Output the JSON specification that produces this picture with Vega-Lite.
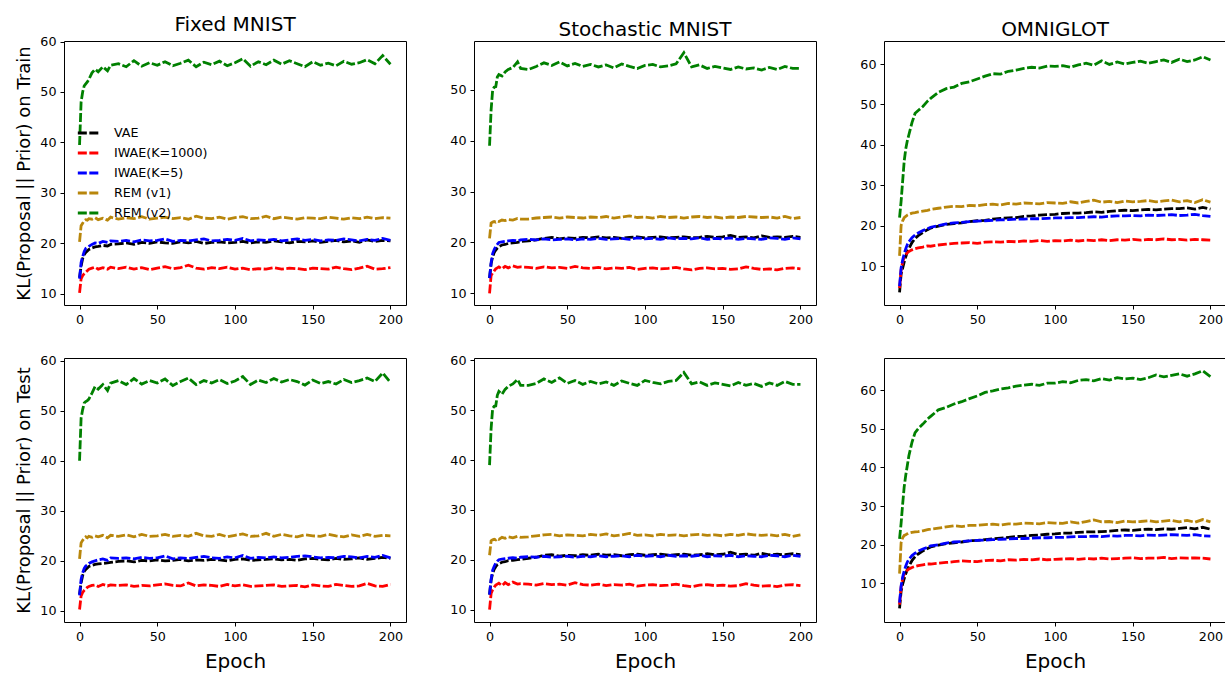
{
"$schema":"https://vega.github.io/schema/vega-lite/v6.json",
"padding":{"left":15,"top":14,"right":0,"bottom":0},
"config":{
 "font":"DejaVu Sans",
 "view":{"stroke":"black","strokeWidth":1},
 "axis":{"domain":false,"grid":false,"tickColor":"black","tickSize":4,"tickWidth":1,"labelFontSize":12.7,"labelColor":"black","labelPadding":4,"titleFontWeight":"normal","titleColor":"black","labelFont":"DejaVu Sans","titleFont":"DejaVu Sans"},
 "title":{"fontSize":20,"fontWeight":"normal","font":"DejaVu Sans","offset":1,"baseline":"alphabetic","color":"black"},
 "line":{"strokeWidth":2.8,"strokeDash":[9,2.5]}
},
"data":{"values":[
{"p":"FT","e":0,"a":13.2,"b":10.2,"c":13.0,"d":20.3,"g":39.5},
{"p":"FT","e":1,"a":15.5,"b":13.0,"c":16.2,"d":23.5,"g":48.0},
{"p":"FT","e":2,"a":17.0,"b":13.6,"c":17.4,"d":24.0,"g":50.0},
{"p":"FT","e":3,"a":17.8,"b":14.0,"c":18.4,"d":24.5,"g":51.2},
{"p":"FT","e":4,"a":18.2,"b":14.3,"c":19.0,"d":24.7,"g":51.6},
{"p":"FT","e":5,"a":18.5,"b":14.6,"c":19.2,"d":24.6,"g":52.0},
{"p":"FT","e":6,"a":18.8,"b":14.9,"c":19.4,"d":24.9,"g":52.5},
{"p":"FT","e":8,"a":19.1,"b":15.1,"c":19.8,"d":24.8,"g":53.8},
{"p":"FT","e":10,"a":19.3,"b":15.3,"c":20.1,"d":25.1,"g":54.5},
{"p":"FT","e":12,"a":19.4,"b":14.9,"c":20.0,"d":24.7,"g":54.0},
{"p":"FT","e":15,"a":19.6,"b":15.2,"c":20.4,"d":25.0,"g":55.0},
{"p":"FT","e":18,"a":19.5,"b":14.9,"c":20.2,"d":24.6,"g":54.2},
{"p":"FT","e":20,"a":19.8,"b":15.3,"c":20.5,"d":25.2,"g":55.3},
{"p":"FT","e":25,"a":19.9,"b":15.0,"c":20.4,"d":24.8,"g":55.6},
{"p":"FT","e":30,"a":20.1,"b":15.3,"c":20.6,"d":25.1,"g":55.0},
{"p":"FT","e":35,"a":19.8,"b":14.9,"c":20.3,"d":24.9,"g":56.2},
{"p":"FT","e":40,"a":20.2,"b":15.2,"c":20.7,"d":25.3,"g":55.1},
{"p":"FT","e":45,"a":20.0,"b":14.8,"c":20.5,"d":24.8,"g":55.8},
{"p":"FT","e":50,"a":20.3,"b":15.1,"c":20.6,"d":25.0,"g":55.3},
{"p":"FT","e":55,"a":20.1,"b":15.4,"c":20.9,"d":25.2,"g":56.0},
{"p":"FT","e":60,"a":20.0,"b":15.0,"c":20.4,"d":24.9,"g":55.2},
{"p":"FT","e":65,"a":20.3,"b":15.2,"c":20.6,"d":25.1,"g":55.7},
{"p":"FT","e":70,"a":20.1,"b":15.7,"c":20.5,"d":24.8,"g":56.3},
{"p":"FT","e":75,"a":20.4,"b":15.1,"c":20.7,"d":25.4,"g":55.0},
{"p":"FT","e":80,"a":20.0,"b":14.9,"c":20.9,"d":25.0,"g":55.9},
{"p":"FT","e":85,"a":20.2,"b":15.2,"c":20.5,"d":24.9,"g":55.4},
{"p":"FT","e":90,"a":20.3,"b":15.0,"c":20.6,"d":25.2,"g":56.1},
{"p":"FT","e":95,"a":20.1,"b":15.3,"c":20.8,"d":24.8,"g":55.2},
{"p":"FT","e":100,"a":20.2,"b":14.9,"c":20.6,"d":25.1,"g":55.8},
{"p":"FT","e":105,"a":20.4,"b":15.1,"c":21.0,"d":25.3,"g":56.6},
{"p":"FT","e":110,"a":20.1,"b":14.8,"c":20.5,"d":24.9,"g":55.1},
{"p":"FT","e":115,"a":20.3,"b":15.0,"c":20.7,"d":25.0,"g":56.0},
{"p":"FT","e":120,"a":20.2,"b":14.9,"c":20.6,"d":25.4,"g":55.4},
{"p":"FT","e":125,"a":20.5,"b":15.2,"c":20.8,"d":24.9,"g":56.3},
{"p":"FT","e":130,"a":20.3,"b":14.9,"c":20.5,"d":25.2,"g":55.5},
{"p":"FT","e":135,"a":20.1,"b":15.1,"c":20.7,"d":25.0,"g":56.2},
{"p":"FT","e":140,"a":20.4,"b":15.0,"c":20.9,"d":24.8,"g":55.6},
{"p":"FT","e":145,"a":20.3,"b":14.8,"c":20.6,"d":25.1,"g":55.0},
{"p":"FT","e":150,"a":20.5,"b":15.1,"c":20.8,"d":25.0,"g":56.0},
{"p":"FT","e":155,"a":20.2,"b":15.0,"c":20.5,"d":24.9,"g":55.3},
{"p":"FT","e":160,"a":20.4,"b":14.9,"c":20.7,"d":25.2,"g":55.7},
{"p":"FT","e":165,"a":20.6,"b":15.3,"c":20.6,"d":25.0,"g":55.2},
{"p":"FT","e":170,"a":20.3,"b":15.0,"c":20.9,"d":24.8,"g":56.1},
{"p":"FT","e":175,"a":20.5,"b":14.8,"c":20.7,"d":25.1,"g":55.5},
{"p":"FT","e":180,"a":20.2,"b":15.1,"c":20.5,"d":24.9,"g":55.8},
{"p":"FT","e":185,"a":20.7,"b":15.5,"c":20.8,"d":25.2,"g":56.4},
{"p":"FT","e":190,"a":20.4,"b":14.9,"c":20.6,"d":24.9,"g":55.6},
{"p":"FT","e":195,"a":20.6,"b":15.0,"c":21.0,"d":25.1,"g":57.2},
{"p":"FT","e":200,"a":20.5,"b":15.2,"c":20.6,"d":25.0,"g":55.5},
{"p":"ST","e":0,"a":13.0,"b":10.0,"c":13.0,"d":20.8,"g":39.0},
{"p":"ST","e":1,"a":15.8,"b":13.5,"c":16.0,"d":23.8,"g":46.0},
{"p":"ST","e":2,"a":17.2,"b":14.0,"c":17.8,"d":24.0,"g":50.0},
{"p":"ST","e":3,"a":18.0,"b":14.4,"c":18.6,"d":24.1,"g":50.5},
{"p":"ST","e":4,"a":18.5,"b":14.8,"c":19.2,"d":24.0,"g":50.6},
{"p":"ST","e":5,"a":18.9,"b":15.0,"c":19.6,"d":24.2,"g":52.5},
{"p":"ST","e":6,"a":19.2,"b":15.2,"c":20.0,"d":24.1,"g":53.0},
{"p":"ST","e":8,"a":19.5,"b":14.8,"c":20.1,"d":24.4,"g":52.7},
{"p":"ST","e":10,"a":19.6,"b":15.3,"c":20.2,"d":24.3,"g":53.5},
{"p":"ST","e":12,"a":19.8,"b":15.0,"c":20.3,"d":24.5,"g":54.0},
{"p":"ST","e":15,"a":19.9,"b":15.4,"c":20.4,"d":24.4,"g":54.4},
{"p":"ST","e":18,"a":20.0,"b":15.1,"c":20.3,"d":24.7,"g":55.5},
{"p":"ST","e":20,"a":20.2,"b":15.2,"c":20.5,"d":24.6,"g":54.2},
{"p":"ST","e":25,"a":20.3,"b":15.1,"c":20.6,"d":24.6,"g":54.0},
{"p":"ST","e":30,"a":20.5,"b":14.9,"c":20.5,"d":24.8,"g":54.6},
{"p":"ST","e":35,"a":20.8,"b":15.2,"c":20.7,"d":24.9,"g":55.3},
{"p":"ST","e":40,"a":21.0,"b":15.0,"c":20.5,"d":25.0,"g":54.8},
{"p":"ST","e":45,"a":20.7,"b":15.1,"c":20.6,"d":24.8,"g":55.5},
{"p":"ST","e":50,"a":20.9,"b":14.9,"c":20.7,"d":25.0,"g":54.7},
{"p":"ST","e":55,"a":20.8,"b":15.3,"c":20.5,"d":24.9,"g":55.2},
{"p":"ST","e":60,"a":21.0,"b":15.0,"c":20.7,"d":24.8,"g":54.6},
{"p":"ST","e":65,"a":20.9,"b":14.9,"c":20.6,"d":25.0,"g":55.0},
{"p":"ST","e":70,"a":21.1,"b":15.1,"c":20.8,"d":24.9,"g":54.5},
{"p":"ST","e":75,"a":20.9,"b":14.8,"c":20.6,"d":25.1,"g":54.9},
{"p":"ST","e":80,"a":21.0,"b":15.0,"c":20.7,"d":24.8,"g":54.3},
{"p":"ST","e":85,"a":20.8,"b":14.9,"c":20.8,"d":25.0,"g":55.1},
{"p":"ST","e":90,"a":21.0,"b":15.1,"c":20.6,"d":25.2,"g":54.6},
{"p":"ST","e":95,"a":21.1,"b":14.7,"c":20.9,"d":24.9,"g":54.2},
{"p":"ST","e":100,"a":20.9,"b":14.9,"c":20.7,"d":25.0,"g":54.8},
{"p":"ST","e":105,"a":21.0,"b":15.0,"c":20.8,"d":24.8,"g":55.0},
{"p":"ST","e":110,"a":21.1,"b":14.8,"c":20.6,"d":25.1,"g":54.5},
{"p":"ST","e":115,"a":20.9,"b":14.9,"c":20.9,"d":24.9,"g":54.7},
{"p":"ST","e":120,"a":21.0,"b":15.1,"c":20.7,"d":25.0,"g":55.1},
{"p":"ST","e":125,"a":21.1,"b":14.8,"c":20.8,"d":24.8,"g":57.3},
{"p":"ST","e":130,"a":20.9,"b":14.6,"c":20.7,"d":25.0,"g":54.5},
{"p":"ST","e":135,"a":21.0,"b":14.9,"c":20.9,"d":25.1,"g":54.9},
{"p":"ST","e":140,"a":21.2,"b":15.0,"c":20.6,"d":24.9,"g":54.2},
{"p":"ST","e":145,"a":21.0,"b":14.8,"c":20.8,"d":25.0,"g":54.6},
{"p":"ST","e":150,"a":21.1,"b":14.9,"c":20.7,"d":24.8,"g":54.3},
{"p":"ST","e":155,"a":21.4,"b":14.7,"c":20.9,"d":25.0,"g":54.0},
{"p":"ST","e":160,"a":21.0,"b":14.8,"c":20.6,"d":24.9,"g":54.5},
{"p":"ST","e":165,"a":21.1,"b":15.2,"c":20.8,"d":25.1,"g":54.1},
{"p":"ST","e":170,"a":20.9,"b":14.9,"c":20.7,"d":25.0,"g":54.3},
{"p":"ST","e":175,"a":21.3,"b":14.7,"c":20.6,"d":24.9,"g":53.9},
{"p":"ST","e":180,"a":21.0,"b":14.8,"c":20.9,"d":25.0,"g":54.4},
{"p":"ST","e":185,"a":21.1,"b":14.6,"c":20.8,"d":24.8,"g":54.0},
{"p":"ST","e":190,"a":21.0,"b":14.9,"c":20.6,"d":25.1,"g":54.6},
{"p":"ST","e":195,"a":21.2,"b":15.0,"c":20.9,"d":24.7,"g":54.2},
{"p":"ST","e":200,"a":21.0,"b":14.8,"c":20.7,"d":24.9,"g":54.2},
{"p":"OT","e":0,"a":3.5,"b":4.5,"c":5.0,"d":12.5,"g":22.0},
{"p":"OT","e":1,"a":8.0,"b":9.0,"c":9.5,"d":20.0,"g":26.0},
{"p":"OT","e":2,"a":9.5,"b":11.0,"c":11.5,"d":21.2,"g":31.0},
{"p":"OT","e":3,"a":11.0,"b":12.2,"c":13.0,"d":22.0,"g":36.0},
{"p":"OT","e":4,"a":12.3,"b":12.8,"c":14.3,"d":22.3,"g":39.0},
{"p":"OT","e":5,"a":13.5,"b":13.3,"c":15.3,"d":22.6,"g":41.0},
{"p":"OT","e":6,"a":14.3,"b":13.6,"c":16.0,"d":22.8,"g":42.5},
{"p":"OT","e":8,"a":15.8,"b":14.0,"c":17.0,"d":23.1,"g":45.5},
{"p":"OT","e":10,"a":16.8,"b":14.3,"c":17.7,"d":23.2,"g":47.8},
{"p":"OT","e":12,"a":17.5,"b":14.5,"c":18.2,"d":23.4,"g":48.5},
{"p":"OT","e":15,"a":18.3,"b":14.7,"c":18.8,"d":23.6,"g":49.5},
{"p":"OT","e":18,"a":19.0,"b":15.0,"c":19.2,"d":23.8,"g":50.8},
{"p":"OT","e":20,"a":19.4,"b":14.9,"c":19.6,"d":24.0,"g":51.5},
{"p":"OT","e":25,"a":19.9,"b":15.2,"c":20.0,"d":24.3,"g":53.0},
{"p":"OT","e":30,"a":20.3,"b":15.4,"c":20.4,"d":24.6,"g":53.9},
{"p":"OT","e":35,"a":20.5,"b":15.6,"c":20.7,"d":24.8,"g":54.3},
{"p":"OT","e":40,"a":20.7,"b":15.7,"c":20.8,"d":24.7,"g":55.2},
{"p":"OT","e":45,"a":21.0,"b":15.8,"c":21.0,"d":25.0,"g":55.6},
{"p":"OT","e":50,"a":21.2,"b":15.6,"c":21.1,"d":24.9,"g":56.3},
{"p":"OT","e":55,"a":21.3,"b":15.9,"c":21.2,"d":25.2,"g":57.0},
{"p":"OT","e":60,"a":21.6,"b":16.0,"c":21.3,"d":25.3,"g":57.6},
{"p":"OT","e":65,"a":21.8,"b":15.9,"c":21.4,"d":25.1,"g":57.5},
{"p":"OT","e":70,"a":21.9,"b":16.1,"c":21.5,"d":25.5,"g":58.2},
{"p":"OT","e":75,"a":22.0,"b":16.0,"c":21.6,"d":25.3,"g":58.5},
{"p":"OT","e":80,"a":22.3,"b":16.2,"c":21.6,"d":25.6,"g":58.9},
{"p":"OT","e":85,"a":22.4,"b":16.1,"c":21.7,"d":25.5,"g":59.2},
{"p":"OT","e":90,"a":22.6,"b":16.3,"c":21.7,"d":25.4,"g":59.0},
{"p":"OT","e":95,"a":22.7,"b":16.1,"c":21.8,"d":25.7,"g":59.5},
{"p":"OT","e":100,"a":22.8,"b":16.3,"c":21.9,"d":25.6,"g":59.4},
{"p":"OT","e":105,"a":23.0,"b":16.2,"c":21.9,"d":25.5,"g":59.6},
{"p":"OT","e":110,"a":23.1,"b":16.4,"c":22.0,"d":25.9,"g":59.2},
{"p":"OT","e":115,"a":23.1,"b":16.2,"c":22.0,"d":25.6,"g":59.8},
{"p":"OT","e":120,"a":23.2,"b":16.4,"c":22.1,"d":26.0,"g":60.2},
{"p":"OT","e":125,"a":23.4,"b":16.3,"c":22.2,"d":26.3,"g":59.7},
{"p":"OT","e":130,"a":23.3,"b":16.5,"c":22.1,"d":25.8,"g":60.8},
{"p":"OT","e":135,"a":23.5,"b":16.3,"c":22.3,"d":26.0,"g":59.9},
{"p":"OT","e":140,"a":23.7,"b":16.5,"c":22.4,"d":25.7,"g":60.5},
{"p":"OT","e":145,"a":23.8,"b":16.4,"c":22.4,"d":26.1,"g":60.0},
{"p":"OT","e":150,"a":23.7,"b":16.6,"c":22.5,"d":25.9,"g":60.4},
{"p":"OT","e":155,"a":23.9,"b":16.4,"c":22.4,"d":26.0,"g":60.7},
{"p":"OT","e":160,"a":24.0,"b":16.6,"c":22.6,"d":26.2,"g":60.2},
{"p":"OT","e":165,"a":23.9,"b":16.5,"c":22.5,"d":25.9,"g":60.6},
{"p":"OT","e":170,"a":24.1,"b":16.7,"c":22.6,"d":26.1,"g":61.0},
{"p":"OT","e":175,"a":24.2,"b":16.5,"c":22.7,"d":26.3,"g":60.4},
{"p":"OT","e":180,"a":24.2,"b":16.6,"c":22.5,"d":25.9,"g":61.2},
{"p":"OT","e":185,"a":24.4,"b":16.4,"c":22.6,"d":26.2,"g":60.6},
{"p":"OT","e":190,"a":24.1,"b":16.6,"c":22.8,"d":25.7,"g":61.0},
{"p":"OT","e":195,"a":24.5,"b":16.5,"c":22.5,"d":26.4,"g":61.8},
{"p":"OT","e":200,"a":24.1,"b":16.4,"c":22.3,"d":25.8,"g":61.0},
{"p":"FE","e":0,"a":13.3,"b":10.3,"c":13.1,"d":20.4,"g":40.0},
{"p":"FE","e":1,"a":15.6,"b":13.0,"c":16.3,"d":23.6,"g":48.5},
{"p":"FE","e":2,"a":17.1,"b":13.7,"c":17.6,"d":24.1,"g":50.2},
{"p":"FE","e":3,"a":17.9,"b":14.1,"c":18.5,"d":24.5,"g":51.5},
{"p":"FE","e":4,"a":18.3,"b":14.4,"c":19.0,"d":24.8,"g":51.8},
{"p":"FE","e":5,"a":18.6,"b":14.7,"c":19.2,"d":24.6,"g":52.0},
{"p":"FE","e":6,"a":18.9,"b":14.9,"c":19.5,"d":24.9,"g":52.3},
{"p":"FE","e":8,"a":19.1,"b":15.1,"c":19.8,"d":24.7,"g":53.5},
{"p":"FE","e":10,"a":19.3,"b":15.2,"c":20.0,"d":25.0,"g":54.8},
{"p":"FE","e":12,"a":19.4,"b":14.9,"c":20.2,"d":24.8,"g":54.3},
{"p":"FE","e":15,"a":19.5,"b":15.3,"c":20.4,"d":25.1,"g":55.2},
{"p":"FE","e":18,"a":19.6,"b":15.0,"c":20.1,"d":24.6,"g":54.0},
{"p":"FE","e":20,"a":19.7,"b":15.2,"c":20.6,"d":25.1,"g":55.5},
{"p":"FE","e":25,"a":19.9,"b":15.1,"c":20.5,"d":24.9,"g":56.0},
{"p":"FE","e":30,"a":20.0,"b":15.2,"c":20.6,"d":25.2,"g":55.2},
{"p":"FE","e":35,"a":19.8,"b":14.9,"c":20.4,"d":24.8,"g":56.4},
{"p":"FE","e":40,"a":20.1,"b":15.1,"c":20.7,"d":25.3,"g":55.3},
{"p":"FE","e":45,"a":20.0,"b":15.0,"c":20.5,"d":24.9,"g":56.0},
{"p":"FE","e":50,"a":20.2,"b":15.2,"c":20.6,"d":25.0,"g":55.5},
{"p":"FE","e":55,"a":20.0,"b":15.4,"c":21.0,"d":25.3,"g":56.3},
{"p":"FE","e":60,"a":20.1,"b":15.1,"c":20.4,"d":24.9,"g":55.0},
{"p":"FE","e":65,"a":20.3,"b":15.0,"c":20.6,"d":25.1,"g":55.8},
{"p":"FE","e":70,"a":20.0,"b":15.6,"c":20.5,"d":24.9,"g":56.5},
{"p":"FE","e":75,"a":20.2,"b":15.0,"c":20.7,"d":25.5,"g":55.2},
{"p":"FE","e":80,"a":20.1,"b":15.2,"c":20.9,"d":25.0,"g":56.0},
{"p":"FE","e":85,"a":20.3,"b":15.1,"c":20.6,"d":24.9,"g":55.5},
{"p":"FE","e":90,"a":20.2,"b":14.9,"c":20.5,"d":25.3,"g":56.2},
{"p":"FE","e":95,"a":20.0,"b":15.3,"c":20.8,"d":24.8,"g":55.4},
{"p":"FE","e":100,"a":20.3,"b":15.0,"c":20.6,"d":25.1,"g":55.9},
{"p":"FE","e":105,"a":20.4,"b":15.2,"c":21.1,"d":25.4,"g":56.8},
{"p":"FE","e":110,"a":20.1,"b":14.9,"c":20.5,"d":24.9,"g":55.2},
{"p":"FE","e":115,"a":20.2,"b":15.0,"c":20.7,"d":25.0,"g":56.1},
{"p":"FE","e":120,"a":20.3,"b":15.1,"c":20.6,"d":25.5,"g":55.6},
{"p":"FE","e":125,"a":20.4,"b":15.2,"c":20.8,"d":24.9,"g":56.4},
{"p":"FE","e":130,"a":20.2,"b":14.9,"c":20.6,"d":25.3,"g":55.7},
{"p":"FE","e":135,"a":20.3,"b":15.0,"c":20.7,"d":25.0,"g":56.2},
{"p":"FE","e":140,"a":20.1,"b":15.1,"c":20.9,"d":24.8,"g":55.8},
{"p":"FE","e":145,"a":20.4,"b":14.8,"c":21.0,"d":25.2,"g":55.1},
{"p":"FE","e":150,"a":20.5,"b":15.2,"c":20.8,"d":25.0,"g":56.1},
{"p":"FE","e":155,"a":20.3,"b":15.0,"c":20.6,"d":24.9,"g":55.4},
{"p":"FE","e":160,"a":20.2,"b":14.9,"c":20.7,"d":25.3,"g":55.8},
{"p":"FE","e":165,"a":20.5,"b":15.3,"c":20.6,"d":25.0,"g":55.3},
{"p":"FE","e":170,"a":20.3,"b":15.1,"c":20.9,"d":24.8,"g":56.2},
{"p":"FE","e":175,"a":20.4,"b":14.9,"c":20.8,"d":25.2,"g":55.6},
{"p":"FE","e":180,"a":20.6,"b":15.0,"c":20.6,"d":24.9,"g":56.0},
{"p":"FE","e":185,"a":20.3,"b":15.5,"c":20.9,"d":25.3,"g":56.5},
{"p":"FE","e":190,"a":20.5,"b":15.0,"c":20.7,"d":24.9,"g":55.8},
{"p":"FE","e":195,"a":20.7,"b":14.9,"c":21.1,"d":25.1,"g":57.5},
{"p":"FE","e":200,"a":20.5,"b":15.3,"c":20.6,"d":25.0,"g":55.6},
{"p":"SE","e":0,"a":13.0,"b":10.0,"c":13.0,"d":20.9,"g":39.0},
{"p":"SE","e":1,"a":15.9,"b":13.2,"c":16.1,"d":23.8,"g":46.3},
{"p":"SE","e":2,"a":17.3,"b":14.0,"c":17.9,"d":24.0,"g":50.4},
{"p":"SE","e":3,"a":18.1,"b":14.5,"c":18.7,"d":24.1,"g":50.8},
{"p":"SE","e":4,"a":18.6,"b":14.9,"c":19.3,"d":24.0,"g":50.9},
{"p":"SE","e":5,"a":19.0,"b":15.1,"c":19.7,"d":24.3,"g":53.0},
{"p":"SE","e":6,"a":19.2,"b":15.3,"c":20.0,"d":24.1,"g":53.8},
{"p":"SE","e":8,"a":19.5,"b":14.8,"c":20.1,"d":24.5,"g":53.2},
{"p":"SE","e":10,"a":19.6,"b":15.4,"c":20.2,"d":24.3,"g":54.2},
{"p":"SE","e":12,"a":19.8,"b":15.0,"c":20.3,"d":24.6,"g":54.8},
{"p":"SE","e":15,"a":19.9,"b":15.5,"c":20.4,"d":24.4,"g":55.3},
{"p":"SE","e":18,"a":20.0,"b":15.1,"c":20.3,"d":24.7,"g":56.2},
{"p":"SE","e":20,"a":20.1,"b":15.2,"c":20.5,"d":24.5,"g":55.0},
{"p":"SE","e":25,"a":20.3,"b":15.1,"c":20.6,"d":24.6,"g":55.0},
{"p":"SE","e":30,"a":20.5,"b":14.9,"c":20.5,"d":24.8,"g":55.4},
{"p":"SE","e":35,"a":20.9,"b":15.2,"c":20.7,"d":25.0,"g":56.3},
{"p":"SE","e":40,"a":21.0,"b":15.0,"c":20.5,"d":25.1,"g":55.6},
{"p":"SE","e":45,"a":20.7,"b":15.1,"c":20.6,"d":24.8,"g":56.5},
{"p":"SE","e":50,"a":20.9,"b":14.9,"c":20.7,"d":25.0,"g":55.4},
{"p":"SE","e":55,"a":20.8,"b":15.4,"c":20.5,"d":24.9,"g":56.0},
{"p":"SE","e":60,"a":21.0,"b":15.0,"c":20.7,"d":24.8,"g":55.2},
{"p":"SE","e":65,"a":20.9,"b":14.9,"c":20.6,"d":25.1,"g":55.8},
{"p":"SE","e":70,"a":21.1,"b":15.1,"c":20.8,"d":24.9,"g":55.3},
{"p":"SE","e":75,"a":20.9,"b":14.8,"c":20.6,"d":25.2,"g":55.7},
{"p":"SE","e":80,"a":21.0,"b":15.0,"c":20.7,"d":24.8,"g":55.0},
{"p":"SE","e":85,"a":20.8,"b":14.9,"c":20.8,"d":25.0,"g":55.9},
{"p":"SE","e":90,"a":21.0,"b":15.1,"c":20.6,"d":25.3,"g":55.4},
{"p":"SE","e":95,"a":21.1,"b":14.7,"c":20.9,"d":24.9,"g":55.0},
{"p":"SE","e":100,"a":20.9,"b":14.9,"c":20.7,"d":25.0,"g":56.0},
{"p":"SE","e":105,"a":21.0,"b":15.0,"c":20.8,"d":24.8,"g":55.6},
{"p":"SE","e":110,"a":21.1,"b":14.8,"c":20.6,"d":25.1,"g":55.3},
{"p":"SE","e":115,"a":20.9,"b":14.9,"c":20.9,"d":24.9,"g":55.8},
{"p":"SE","e":120,"a":21.0,"b":15.1,"c":20.7,"d":25.0,"g":56.0},
{"p":"SE","e":125,"a":21.1,"b":14.8,"c":20.8,"d":24.8,"g":57.6},
{"p":"SE","e":130,"a":20.9,"b":14.6,"c":20.7,"d":25.0,"g":55.3},
{"p":"SE","e":135,"a":21.0,"b":14.9,"c":20.9,"d":25.1,"g":55.7},
{"p":"SE","e":140,"a":21.2,"b":15.0,"c":20.6,"d":24.9,"g":55.0},
{"p":"SE","e":145,"a":21.0,"b":14.8,"c":20.8,"d":25.0,"g":55.5},
{"p":"SE","e":150,"a":21.1,"b":14.9,"c":20.7,"d":24.8,"g":55.2},
{"p":"SE","e":155,"a":21.5,"b":14.7,"c":20.9,"d":25.1,"g":54.9},
{"p":"SE","e":160,"a":21.0,"b":14.8,"c":20.6,"d":24.9,"g":55.6},
{"p":"SE","e":165,"a":21.1,"b":15.2,"c":20.8,"d":25.2,"g":55.0},
{"p":"SE","e":170,"a":20.9,"b":14.9,"c":20.7,"d":25.0,"g":55.4},
{"p":"SE","e":175,"a":21.3,"b":14.7,"c":20.6,"d":24.9,"g":54.8},
{"p":"SE","e":180,"a":21.0,"b":14.8,"c":20.9,"d":25.0,"g":55.5},
{"p":"SE","e":185,"a":21.1,"b":14.6,"c":20.8,"d":24.8,"g":55.0},
{"p":"SE","e":190,"a":21.0,"b":14.9,"c":20.6,"d":25.1,"g":55.8},
{"p":"SE","e":195,"a":21.2,"b":15.0,"c":20.9,"d":24.7,"g":55.2},
{"p":"SE","e":200,"a":21.0,"b":14.8,"c":20.7,"d":25.0,"g":55.2},
{"p":"OE","e":0,"a":3.5,"b":4.5,"c":5.0,"d":12.5,"g":21.5},
{"p":"OE","e":1,"a":8.0,"b":9.0,"c":9.3,"d":20.5,"g":25.5},
{"p":"OE","e":2,"a":9.8,"b":11.2,"c":11.6,"d":21.8,"g":30.5},
{"p":"OE","e":3,"a":11.2,"b":12.4,"c":13.2,"d":22.4,"g":35.0},
{"p":"OE","e":4,"a":12.5,"b":13.0,"c":14.5,"d":22.6,"g":38.0},
{"p":"OE","e":5,"a":13.6,"b":13.4,"c":15.5,"d":22.8,"g":40.5},
{"p":"OE","e":6,"a":14.4,"b":13.7,"c":16.2,"d":23.0,"g":43.0},
{"p":"OE","e":8,"a":15.9,"b":14.1,"c":17.2,"d":23.2,"g":46.5},
{"p":"OE","e":10,"a":16.9,"b":14.4,"c":17.8,"d":23.3,"g":49.0},
{"p":"OE","e":12,"a":17.6,"b":14.6,"c":18.3,"d":23.4,"g":50.0},
{"p":"OE","e":15,"a":18.4,"b":14.8,"c":18.9,"d":23.6,"g":51.2},
{"p":"OE","e":18,"a":19.0,"b":15.0,"c":19.3,"d":23.9,"g":52.5},
{"p":"OE","e":20,"a":19.4,"b":15.0,"c":19.7,"d":24.0,"g":53.2},
{"p":"OE","e":25,"a":19.9,"b":15.2,"c":20.0,"d":24.3,"g":54.9},
{"p":"OE","e":30,"a":20.3,"b":15.4,"c":20.4,"d":24.6,"g":55.5},
{"p":"OE","e":35,"a":20.5,"b":15.6,"c":20.7,"d":24.9,"g":56.4},
{"p":"OE","e":40,"a":20.7,"b":15.8,"c":20.8,"d":24.7,"g":57.0},
{"p":"OE","e":45,"a":21.0,"b":15.7,"c":21.0,"d":25.0,"g":57.8},
{"p":"OE","e":50,"a":21.1,"b":15.6,"c":21.1,"d":25.0,"g":58.5},
{"p":"OE","e":55,"a":21.3,"b":15.9,"c":21.2,"d":25.2,"g":59.4},
{"p":"OE","e":60,"a":21.5,"b":16.0,"c":21.3,"d":25.3,"g":59.8},
{"p":"OE","e":65,"a":21.7,"b":15.8,"c":21.4,"d":25.1,"g":60.3},
{"p":"OE","e":70,"a":21.9,"b":16.1,"c":21.5,"d":25.4,"g":60.6},
{"p":"OE","e":75,"a":22.1,"b":16.0,"c":21.6,"d":25.3,"g":61.0},
{"p":"OE","e":80,"a":22.2,"b":16.2,"c":21.6,"d":25.6,"g":61.3},
{"p":"OE","e":85,"a":22.4,"b":16.1,"c":21.7,"d":25.5,"g":61.5},
{"p":"OE","e":90,"a":22.5,"b":16.3,"c":21.8,"d":25.4,"g":61.2},
{"p":"OE","e":95,"a":22.7,"b":16.1,"c":21.8,"d":25.7,"g":61.8},
{"p":"OE","e":100,"a":22.8,"b":16.2,"c":21.9,"d":25.6,"g":61.8},
{"p":"OE","e":105,"a":23.0,"b":16.3,"c":21.9,"d":25.5,"g":62.2},
{"p":"OE","e":110,"a":23.0,"b":16.4,"c":22.0,"d":25.9,"g":61.9},
{"p":"OE","e":115,"a":23.2,"b":16.2,"c":22.1,"d":25.6,"g":62.5},
{"p":"OE","e":120,"a":23.3,"b":16.4,"c":22.1,"d":26.0,"g":62.7},
{"p":"OE","e":125,"a":23.3,"b":16.3,"c":22.2,"d":26.4,"g":62.4},
{"p":"OE","e":130,"a":23.4,"b":16.5,"c":22.1,"d":25.9,"g":63.0},
{"p":"OE","e":135,"a":23.5,"b":16.3,"c":22.3,"d":26.0,"g":62.6},
{"p":"OE","e":140,"a":23.7,"b":16.4,"c":22.2,"d":25.7,"g":63.2},
{"p":"OE","e":145,"a":23.8,"b":16.5,"c":22.4,"d":26.1,"g":62.9},
{"p":"OE","e":150,"a":23.7,"b":16.6,"c":22.4,"d":25.9,"g":63.1},
{"p":"OE","e":155,"a":23.9,"b":16.4,"c":22.3,"d":26.0,"g":62.7},
{"p":"OE","e":160,"a":24.0,"b":16.5,"c":22.5,"d":26.2,"g":63.2},
{"p":"OE","e":165,"a":23.9,"b":16.5,"c":22.4,"d":25.9,"g":63.9},
{"p":"OE","e":170,"a":24.1,"b":16.7,"c":22.5,"d":26.1,"g":63.4},
{"p":"OE","e":175,"a":24.0,"b":16.4,"c":22.6,"d":26.3,"g":63.8},
{"p":"OE","e":180,"a":24.2,"b":16.6,"c":22.5,"d":25.9,"g":64.2},
{"p":"OE","e":185,"a":24.4,"b":16.5,"c":22.4,"d":26.3,"g":63.6},
{"p":"OE","e":190,"a":24.1,"b":16.6,"c":22.6,"d":25.8,"g":64.2},
{"p":"OE","e":195,"a":24.5,"b":16.5,"c":22.3,"d":26.5,"g":65.0},
{"p":"OE","e":200,"a":24.0,"b":16.3,"c":22.2,"d":25.9,"g":63.5}
]},
"columns":3,
"spacing":{"row":53,"column":68},
"bounds":"flush",
"resolve":{"scale":{"color":"independent","x":"independent","y":"independent"},"axis":{"x":"independent","y":"independent"},"legend":{"color":"independent"}},
"concat":[
 {"width":342,"height":264,"title":"Fixed MNIST",
  "transform":[{"filter":"datum.p=='FT'"},{"fold":["a","b","c","d","g"],"as":["s","v"]}],
  "mark":{"type":"line"},
  "encoding":{
   "x":{"field":"e","type":"quantitative","scale":{"domain":[-10,210],"nice":false,"zero":false},"axis":{"values":[0,50,100,150,200],"title":null}},
   "y":{"field":"v","type":"quantitative","scale":{"domain":[7.8,60.1],"nice":false,"zero":false},"axis":{"values":[10,20,30,40,50,60],"title":"KL(Proposal || Prior) on Train","titleFontSize":18,"titlePadding":6}},
   "color":{"field":"s","type":"nominal","scale":{"domain":["a","b","c","d","g"],"range":["#000000","#ff0000","#0000ff","#b8860b","#008000"]},
    "legend":{"title":null,"orient":"none","legendX":12,"legendY":79,"padding":0,"symbolType":"stroke","symbolStrokeWidth":2.8,"symbolDash":[8,2],"symbolSize":500,"labelFontSize":12.7,"labelColor":"black","labelFont":"DejaVu Sans","labelOffset":12,"rowPadding":-0.5,
     "labelExpr":"datum.label=='a'?'VAE':datum.label=='b'?'IWAE(K=1000)':datum.label=='c'?'IWAE(K=5)':datum.label=='d'?'REM (v1)':'REM (v2)'"}}
  }},
 {"width":342,"height":264,"title":"Stochastic MNIST",
  "transform":[{"filter":"datum.p=='ST'"},{"fold":["a","b","c","d","g"],"as":["s","v"]}],
  "mark":{"type":"line"},
  "encoding":{
   "x":{"field":"e","type":"quantitative","scale":{"domain":[-10,210],"nice":false,"zero":false},"axis":{"values":[0,50,100,150,200],"title":null}},
   "y":{"field":"v","type":"quantitative","scale":{"domain":[7.7,59.6],"nice":false,"zero":false},"axis":{"values":[10,20,30,40,50],"title":null}},
   "color":{"field":"s","type":"nominal","scale":{"domain":["a","b","c","d","g"],"range":["#000000","#ff0000","#0000ff","#b8860b","#008000"]},"legend":null}
  }},
 {"width":342,"height":264,"title":"OMNIGLOT",
  "transform":[{"filter":"datum.p=='OT'"},{"fold":["a","b","c","d","g"],"as":["s","v"]}],
  "mark":{"type":"line"},
  "encoding":{
   "x":{"field":"e","type":"quantitative","scale":{"domain":[-10,210],"nice":false,"zero":false},"axis":{"values":[0,50,100,150,200],"title":null}},
   "y":{"field":"v","type":"quantitative","scale":{"domain":[0.35,65.7],"nice":false,"zero":false},"axis":{"values":[10,20,30,40,50,60],"title":null}},
   "color":{"field":"s","type":"nominal","scale":{"domain":["a","b","c","d","g"],"range":["#000000","#ff0000","#0000ff","#b8860b","#008000"]},"legend":null}
  }},
 {"width":342,"height":264,
  "transform":[{"filter":"datum.p=='FE'"},{"fold":["a","b","c","d","g"],"as":["s","v"]}],
  "mark":{"type":"line"},
  "encoding":{
   "x":{"field":"e","type":"quantitative","scale":{"domain":[-10,210],"nice":false,"zero":false},"axis":{"values":[0,50,100,150,200],"title":"Epoch","titleFontSize":20,"titlePadding":9}},
   "y":{"field":"v","type":"quantitative","scale":{"domain":[7.8,60.5],"nice":false,"zero":false},"axis":{"values":[10,20,30,40,50,60],"title":"KL(Proposal || Prior) on Test","titleFontSize":18,"titlePadding":6}},
   "color":{"field":"s","type":"nominal","scale":{"domain":["a","b","c","d","g"],"range":["#000000","#ff0000","#0000ff","#b8860b","#008000"]},"legend":null}
  }},
 {"width":342,"height":264,
  "transform":[{"filter":"datum.p=='SE'"},{"fold":["a","b","c","d","g"],"as":["s","v"]}],
  "mark":{"type":"line"},
  "encoding":{
   "x":{"field":"e","type":"quantitative","scale":{"domain":[-10,210],"nice":false,"zero":false},"axis":{"values":[0,50,100,150,200],"title":"Epoch","titleFontSize":20,"titlePadding":9}},
   "y":{"field":"v","type":"quantitative","scale":{"domain":[7.5,60.5],"nice":false,"zero":false},"axis":{"values":[10,20,30,40,50,60],"title":null}},
   "color":{"field":"s","type":"nominal","scale":{"domain":["a","b","c","d","g"],"range":["#000000","#ff0000","#0000ff","#b8860b","#008000"]},"legend":null}
  }},
 {"width":342,"height":264,
  "transform":[{"filter":"datum.p=='OE'"},{"fold":["a","b","c","d","g"],"as":["s","v"]}],
  "mark":{"type":"line"},
  "encoding":{
   "x":{"field":"e","type":"quantitative","scale":{"domain":[-10,210],"nice":false,"zero":false},"axis":{"values":[0,50,100,150,200],"title":"Epoch","titleFontSize":20,"titlePadding":9}},
   "y":{"field":"v","type":"quantitative","scale":{"domain":[0,68.3],"nice":false,"zero":false},"axis":{"values":[10,20,30,40,50,60],"title":null}},
   "color":{"field":"s","type":"nominal","scale":{"domain":["a","b","c","d","g"],"range":["#000000","#ff0000","#0000ff","#b8860b","#008000"]},"legend":null}
  }}
]
}
